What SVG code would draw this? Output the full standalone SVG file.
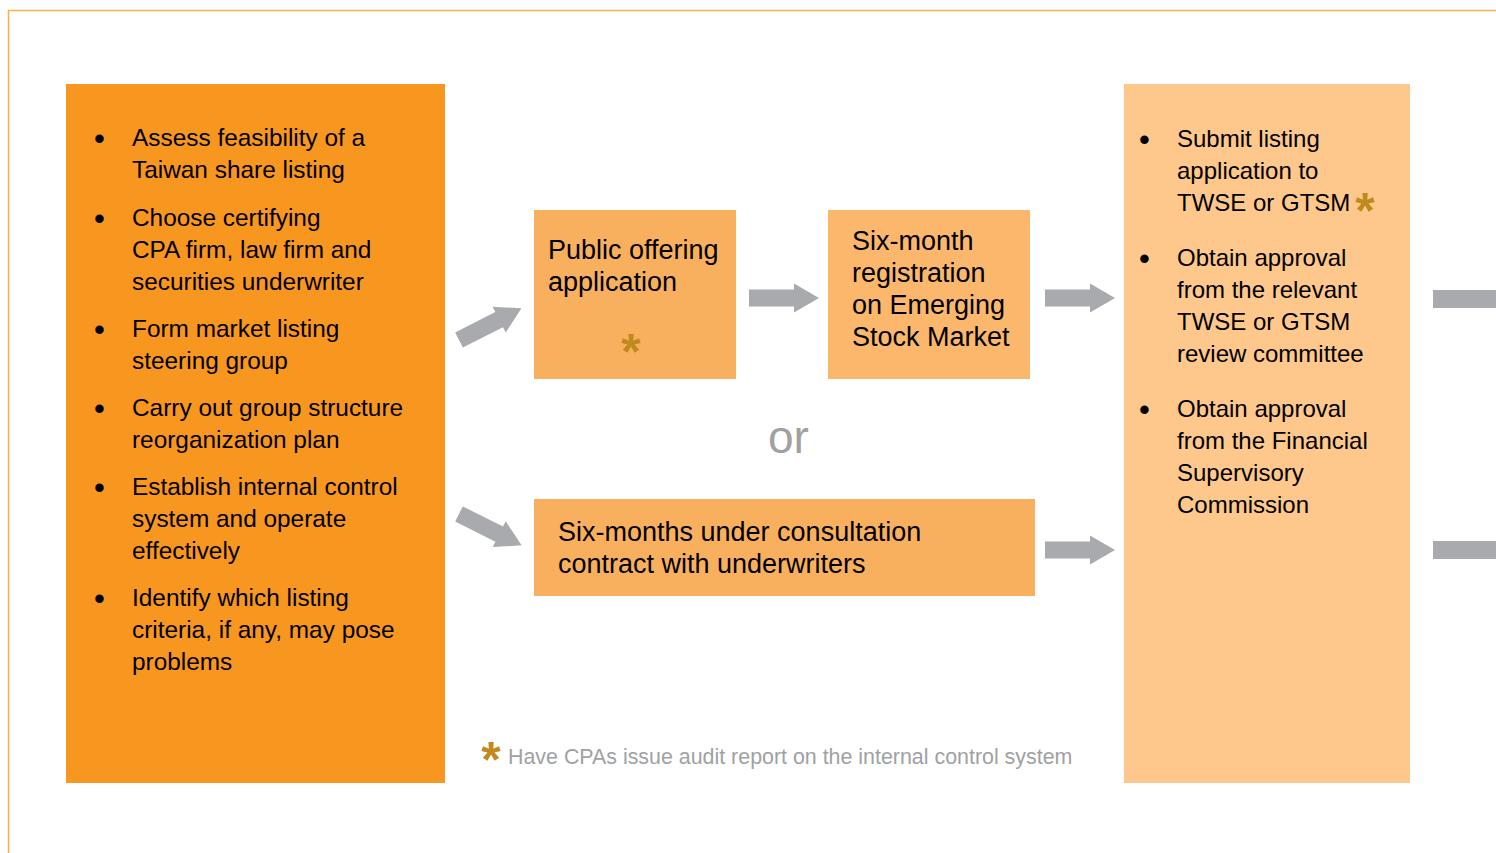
<svg xmlns="http://www.w3.org/2000/svg" xmlns:xlink="http://www.w3.org/1999/xlink" width="1496" height="853" viewBox="0 0 1496 853">
<style>
.t{font-family:"Liberation Sans",Arial,Helvetica,sans-serif;fill:#000;}
.l{font-size:24.4px;}
.r{font-size:24px;}
.b{font-size:27px;}
.bu{font-size:31px;}
.ast{font-family:"Liberation Sans",Arial,sans-serif;font-weight:bold;font-size:50px;fill:#C08A1E;}
.gray{font-family:"Liberation Sans",Arial,sans-serif;fill:#A0A1A3;}
.arrow{fill:#A9AAAD;}
</style>
<defs>
<path id="arr" d="M0,-8.5 H45 V-14.5 L70,0 L45,14.5 V8.5 H0 Z"/>
</defs>
<rect width="1496" height="853" fill="#fff"/>
<path d="M8.5,853 V10.5 H1496" fill="none" stroke="#FAAE50" stroke-width="1.5"/>

<g id="prep">
<rect x="66" y="84" width="379" height="699" fill="#F8971F"/>
<g class="t bu">
<text x="94" y="149">•</text>
<text x="94" y="229">•</text>
<text x="94" y="340">•</text>
<text x="94" y="419">•</text>
<text x="94" y="498">•</text>
<text x="94" y="609">•</text>
</g>
<g class="t l">
<text x="132" y="146">Assess feasibility of a</text>
<text x="132" y="178">Taiwan share listing</text>
<text x="132" y="226">Choose certifying</text>
<text x="132" y="258">CPA firm, law firm and</text>
<text x="132" y="290">securities underwriter</text>
<text x="132" y="337">Form market listing</text>
<text x="132" y="369">steering group</text>
<text x="132" y="416">Carry out group structure</text>
<text x="132" y="448">reorganization plan</text>
<text x="132" y="495">Establish internal control</text>
<text x="132" y="527">system and operate</text>
<text x="132" y="559">effectively</text>
<text x="132" y="606">Identify which listing</text>
<text x="132" y="638">criteria, if any, may pose</text>
<text x="132" y="670">problems</text>
</g>
</g>

<g id="public-offering">
<rect x="534" y="210" width="202" height="169" fill="#F9B05E"/>
<text class="t b" x="548" y="259">Public offering</text>
<text class="t b" x="548" y="291">application</text>
<text class="ast" x="631" y="369" text-anchor="middle">*</text>
</g>

<g id="emerging">
<rect x="828" y="210" width="202" height="169" fill="#FBB86C"/>
<text class="t b" x="852" y="250">Six-month</text>
<text class="t b" x="852" y="282">registration</text>
<text class="t b" x="852" y="314">on Emerging</text>
<text class="t b" x="852" y="346">Stock Market</text>
</g>

<g id="or-label">
<text class="gray" x="768" y="453" font-size="46">or</text>
</g>

<g id="consultation">
<rect x="534" y="499" width="501" height="97" fill="#F9B05E"/>
<text class="t b" x="558" y="541">Six-months under consultation</text>
<text class="t b" x="558" y="573">contract with underwriters</text>
</g>

<g id="listing">
<rect x="1124" y="84" width="286" height="699" fill="#FEC88C"/>
<g class="t bu">
<text x="1139" y="150">•</text>
<text x="1139" y="269">•</text>
<text x="1139" y="420">•</text>
</g>
<g class="t r">
<text x="1177" y="147">Submit listing</text>
<text x="1177" y="179">application to</text>
<text x="1177" y="211">TWSE or GTSM</text>
<text x="1177" y="266">Obtain approval</text>
<text x="1177" y="298">from the relevant</text>
<text x="1177" y="330">TWSE or GTSM</text>
<text x="1177" y="362">review committee</text>
<text x="1177" y="417">Obtain approval</text>
<text x="1177" y="449">from the Financial</text>
<text x="1177" y="481">Supervisory</text>
<text x="1177" y="513">Commission</text>
</g>
<text class="ast" x="1365" y="228" text-anchor="middle">*</text>
</g>

<g id="footnote">
<text class="ast" x="491" y="777" text-anchor="middle">*</text>
<text class="gray" x="508" y="764" font-size="21.4">Have CPAs issue audit report on the internal control system</text>
</g>

<g id="connectors" class="arrow">
<use xlink:href="#arr" transform="translate(459,340) rotate(-26.9)"/>
<use xlink:href="#arr" transform="translate(459,514) rotate(26.6)"/>
<use xlink:href="#arr" transform="translate(749,298)"/>
<use xlink:href="#arr" transform="translate(1045,298)"/>
<use xlink:href="#arr" transform="translate(1045,550)"/>
<rect x="1433" y="290" width="63" height="18"/>
<rect x="1433" y="541" width="63" height="18"/>
</g>
</svg>
